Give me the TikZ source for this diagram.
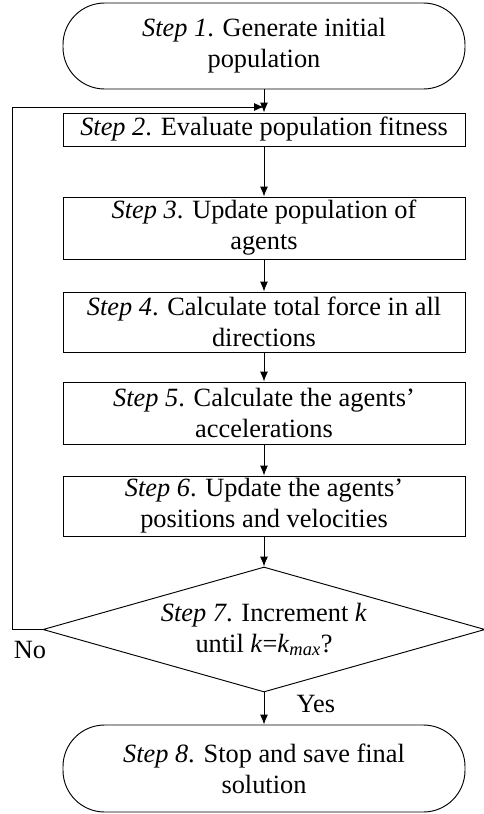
\documentclass[tikz,border=0pt]{standalone}
\usepackage{fontspec}
\setmainfont{Liberation Serif}
\usetikzlibrary{arrows.meta,shapes.geometric}
\tikzset{
	txt/.style={font=\fontsize{22.5}{26.5}\selectfont},
	stepbox/.style={txt,draw,line width=0.8pt,minimum width=120.6mm,inner sep=0pt,align=center},
	endbox/.style={stepbox,rounded corners=12.5mm},
	testbox/.style={txt,draw,line width=0.8pt,diamond,aspect=3.5,minimum width=132.6mm,minimum height=37.5mm,inner sep=0pt,align=center},
	flow/.style={-{Latex[length=3mm,width=2.4mm]},line width=0.8pt}
}

\begin{document}
\begin{tikzpicture}[x=0.3mm,y=-0.3mm]
			\useasboundingbox (0,0) rectangle (483,814);
			\node[endbox,minimum height=25.8mm] (s1) at (264,46) {\textit{Step 1}. Generate initial\\population};
			\node[stepbox,minimum height=9.9mm] (s2) at (264,129.5) {\textit{Step 2}. Evaluate population fitness};
			\node[stepbox,minimum height=18.6mm] (s3) at (264,228) {\textit{Step 3}. Update population of\\agents};
			\node[stepbox,minimum height=18mm] (s4) at (264,322) {\textit{Step 4}. Calculate total force in all\\directions};
			\node[stepbox,minimum height=18.6mm] (s5) at (264,413) {\textit{Step 5}. Calculate the agents'\\accelerations};
			\node[stepbox,minimum height=18mm] (s6) at (264,506) {\textit{Step 6}. Update the agents'\\positions and velocities};
			\node[testbox] (s7) at (264,629.5) {\textit{Step 7}. Increment \textit{k}\\until \textit{k}=\textit{k}\textsubscript{\textit{max}}?};
			\node[endbox,minimum height=26.1mm] (s8) at (264,768.5) {\textit{Step 8}. Stop and save final\\solution};
			\coordinate (back) at (264,107);
			\draw[flow] (s1) -- (s2);
			\draw[flow] (s2) -- (s3);
			\draw[flow] (s3) -- (s4);
			\draw[flow] (s4) -- (s5);
			\draw[flow] (s5) -- (s6);
			\draw[flow] (s6) -- (s7);
			\draw[flow] (s7) -- (s8) node[pos=0.35,right=8.5mm,txt] (yes) {Yes};
			\draw[flow] (s7.west) -- (12,629.5) |- (back);
			\node[txt] (no) at (30,650) {No};
		\end{tikzpicture}
\end{document}
